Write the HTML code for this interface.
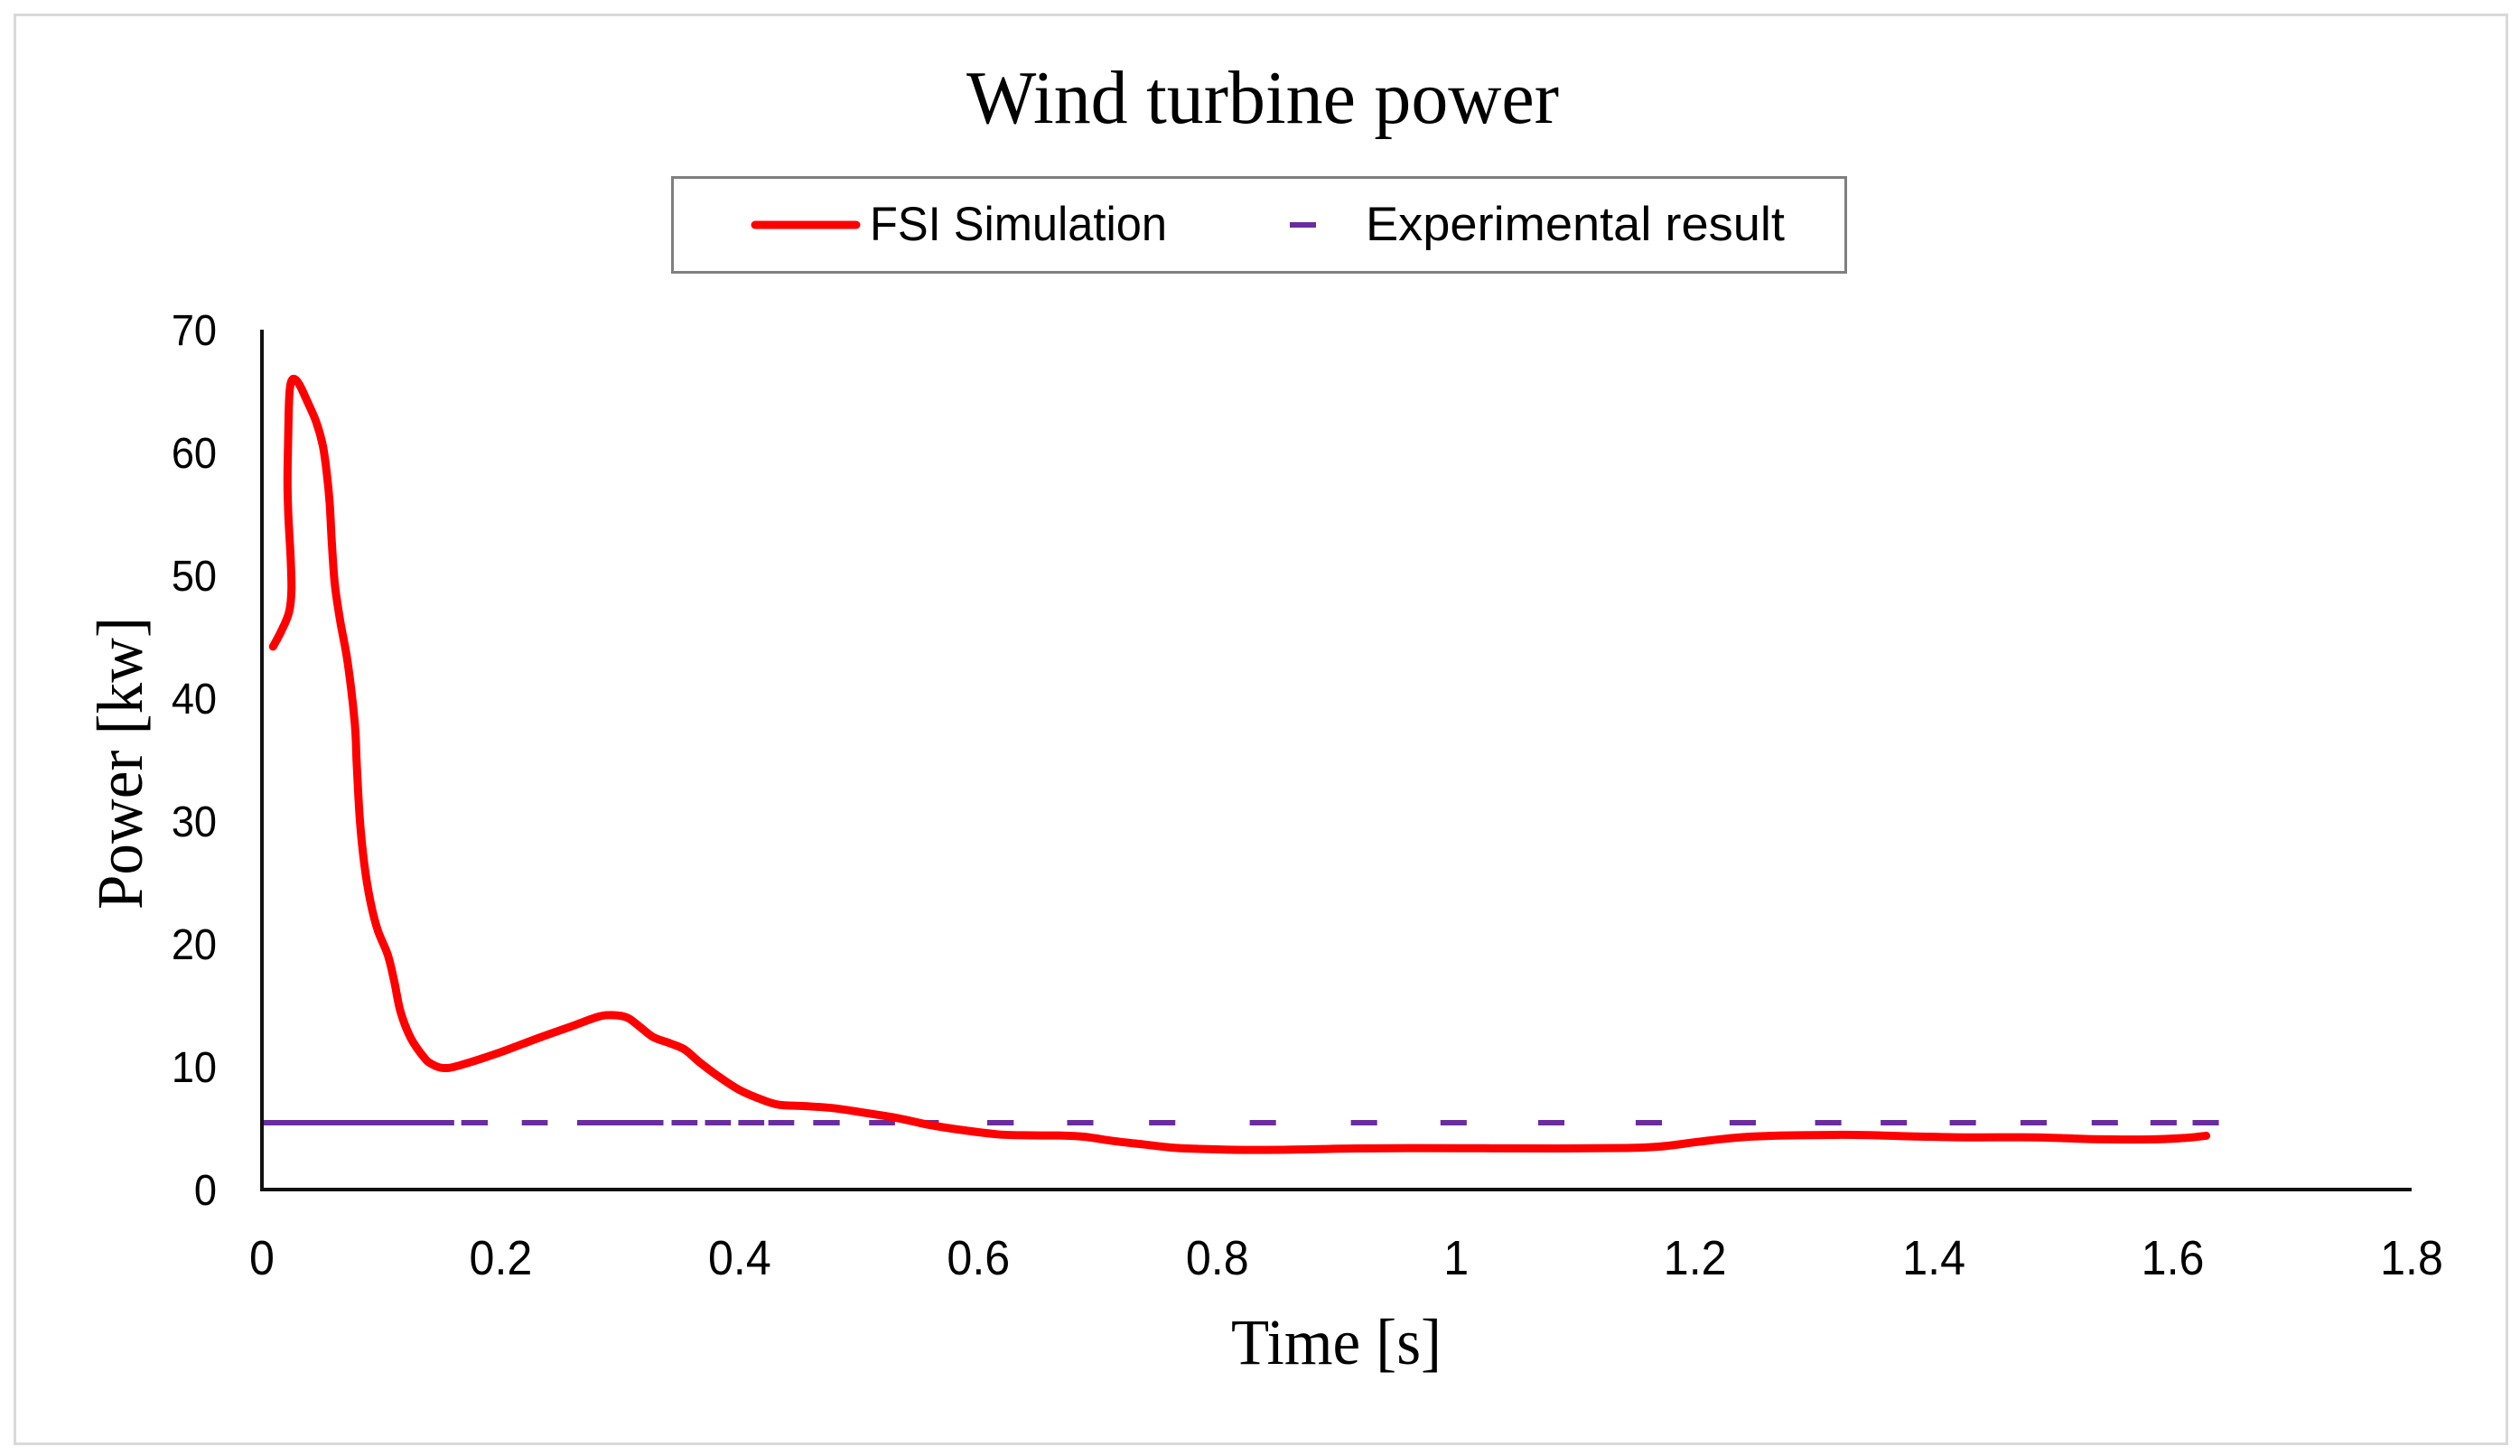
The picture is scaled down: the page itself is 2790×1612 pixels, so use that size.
<!DOCTYPE html>
<html lang="en">
<head>
<meta charset="utf-8">
<title>Wind turbine power</title>
<style>
  html, body { margin: 0; padding: 0; background: #ffffff; }
  body { width: 2790px; height: 1612px; overflow: hidden; }
  svg { display: block; }
  .serif { font-family: "Liberation Serif", serif; fill: #000; }
  .sans { font-family: "Liberation Sans", sans-serif; fill: #000; }
</style>
</head>
<body>
<svg id="chart" xmlns="http://www.w3.org/2000/svg" width="2790" height="1612" viewBox="0 0 2790 1612">
  <rect x="16.5" y="16.5" width="2759" height="1582" fill="#ffffff" stroke="#d9d9d9" stroke-width="3"/>
  <text class="serif" x="1070" y="136" font-size="84" textLength="656" lengthAdjust="spacingAndGlyphs">Wind turbine power</text>

  <g>
    <rect x="744.5" y="196.5" width="1299" height="105" fill="#ffffff" stroke="#7f7f7f" stroke-width="3"/>
    <line x1="836" y1="249" x2="948" y2="249" stroke="#ff0000" stroke-width="9" stroke-linecap="round"/>
    <text class="sans" x="963" y="266" font-size="53" textLength="329" lengthAdjust="spacingAndGlyphs">FSI Simulation</text>
    <line x1="1428" y1="249" x2="1457" y2="249" stroke="#6a2c9e" stroke-width="6"/>
    <text class="sans" x="1512" y="266" font-size="53" textLength="464" lengthAdjust="spacingAndGlyphs">Experimental result</text>
  </g>

  <g id="x-tick-labels"></g>
  <g id="y-tick-labels"></g>
  <g id="experimental-series"></g>
  <path id="fsi-line" fill="none" stroke="#ff0000" stroke-width="9" stroke-linecap="round" stroke-linejoin="round"/>
  <line id="y-axis" stroke="#111111" stroke-width="4"/>
  <line id="x-axis" stroke="#111111" stroke-width="4"/>

  <text class="serif" x="1363" y="1510" font-size="72" textLength="233" lengthAdjust="spacingAndGlyphs">Time [s]</text>
  <text class="serif" transform="translate(157,1007) rotate(-90)" x="0" y="0" font-size="72" textLength="324" lengthAdjust="spacingAndGlyphs">Power [kw]</text>
</svg>

<script>
const xTickValues = [0, 0.2, 0.4, 0.6, 0.8, 1, 1.2, 1.4, 1.6, 1.8];
const yTickValues = [0, 10, 20, 30, 40, 50, 60, 70];

const fsiTime = [
  0.0093, 0.0164, 0.0227, 0.0247, 0.024, 0.0222, 0.0214, 0.022, 0.0227, 0.024, 0.027,
  0.0315, 0.0378, 0.0454, 0.0509, 0.0542, 0.0567, 0.0585, 0.061, 0.0655, 0.0718, 0.0777,
  0.0794, 0.082, 0.0857, 0.0907, 0.097, 0.1054, 0.1109, 0.116, 0.1248, 0.1362, 0.1425,
  0.1513, 0.1634, 0.1975, 0.2305, 0.2596, 0.2817, 0.2937, 0.3058, 0.3158, 0.3278, 0.3419, 0.3539, 0.366,
  0.381, 0.4, 0.4191, 0.4331, 0.4532, 0.4772, 0.5013, 0.5304, 0.5595, 0.5835, 0.6166, 0.6457,
  0.6678, 0.6883, 0.7134, 0.7385, 0.7636, 0.7887, 0.8138, 0.8388, 0.8639, 0.889, 0.9151, 0.963,
  1.023, 1.084, 1.142, 1.1707, 1.2042, 1.2376, 1.2757, 1.333, 1.3808, 1.4285, 1.4858, 1.5335, 1.5813,
  1.61, 1.628
];
const fsiPower = [
  44.2, 45.5, 47.0, 48.8, 51.5, 54.7, 57.6, 61.3, 64.2, 65.6, 66.0,
  65.5, 64.2, 62.5, 60.6, 58.4, 55.9, 52.7, 49.3, 46.3, 42.9, 38.0,
  34.6, 30.1, 26.5, 23.5, 21.1, 19.1, 16.9, 14.5, 12.3, 10.7, 10.2,
  9.9, 10.05, 11.1, 12.3, 13.3, 14.07, 14.2, 14.0, 13.3, 12.4, 11.9, 11.4, 10.4,
  9.3, 8.1, 7.3, 6.9, 6.8, 6.64, 6.3, 5.85, 5.25, 4.88, 4.49, 4.41,
  4.4, 4.3, 3.95, 3.67, 3.4, 3.3, 3.24, 3.23, 3.25, 3.3, 3.35, 3.37,
  3.36, 3.35, 3.38, 3.5, 3.9, 4.25, 4.4, 4.45, 4.33, 4.25, 4.25, 4.1, 4.08,
  4.2, 4.38
];

const experimentalPower = 5.44;
const experimentalSegmentStart = [
  0, 0.1669, 0.2176, 0.2639, 0.343, 0.371, 0.3989, 0.424, 0.4616, 0.5084, 0.5446, 0.6073,
  0.6742, 0.7428, 0.8271, 0.9118, 0.9868, 1.0686, 1.1503, 1.2289, 1.3005, 1.3554, 1.4132, 1.4725,
  1.5321, 1.5813, 1.6166
];
const experimentalSegmentEnd = [
  0.161, 0.1891, 0.2393, 0.3362, 0.3647, 0.3927, 0.4206, 0.4457, 0.4838, 0.5301, 0.5668, 0.6295,
  0.6962, 0.7648, 0.8491, 0.9338, 1.0088, 1.0906, 1.1723, 1.2509, 1.3225, 1.3774, 1.4352, 1.4945,
  1.5541, 1.6033, 1.6386
];

const xDomainMax = 1.8;
const yDomainMax = 70;
const NS = 'http://www.w3.org/2000/svg';

function xScale(t) { return 290 + (t / xDomainMax) * (2670 - 290); }
function yScale(p) { return 1317 - (p / yDomainMax) * (1317 - 365); }

const yAxis = document.getElementById('y-axis');
yAxis.setAttribute('x1', xScale(0));
yAxis.setAttribute('x2', xScale(0));
yAxis.setAttribute('y1', yScale(yDomainMax));
yAxis.setAttribute('y2', yScale(0) + 2);

const xAxis = document.getElementById('x-axis');
xAxis.setAttribute('x1', xScale(0));
xAxis.setAttribute('x2', xScale(xDomainMax));
xAxis.setAttribute('y1', yScale(0));
xAxis.setAttribute('y2', yScale(0));

const xLabelGroup = document.getElementById('x-tick-labels');
xTickValues.forEach(function (v) {
  const el = document.createElementNS(NS, 'text');
  
  
  el.setAttribute('class', 'sans');
  el.setAttribute('transform', 'translate(' + xScale(v) + ',1411) scale(0.93,1)');
  el.setAttribute('font-size', '54');
  el.setAttribute('text-anchor', 'middle');
  el.textContent = String(v);
  xLabelGroup.appendChild(el);
});

const yLabelGroup = document.getElementById('y-tick-labels');
yTickValues.forEach(function (v) {
  const el = document.createElementNS(NS, 'text');
  
  
  el.setAttribute('class', 'sans');
  el.setAttribute('transform', 'translate(240,' + (yScale(v) + 17) + ') scale(0.94,1)');
  el.setAttribute('font-size', '48');
  el.setAttribute('text-anchor', 'end');
  el.textContent = String(v);
  yLabelGroup.appendChild(el);
});

const expGroup = document.getElementById('experimental-series');
experimentalSegmentStart.forEach(function (start, i) {
  const seg = document.createElementNS(NS, 'line');
  
  
  seg.setAttribute('x1', xScale(start));
  seg.setAttribute('x2', xScale(experimentalSegmentEnd[i]));
  seg.setAttribute('y1', yScale(experimentalPower));
  seg.setAttribute('y2', yScale(experimentalPower));
  seg.setAttribute('stroke', '#6a2c9e');
  seg.setAttribute('stroke-width', '6');
  expGroup.appendChild(seg);
});

/* Smooth line through the series (Catmull-Rom converted to cubic Beziers). */
function smoothPath(pts) {
  let d = 'M' + pts[0][0].toFixed(2) + ' ' + pts[0][1].toFixed(2);
  for (let i = 0; i < pts.length - 1; i++) {
    const p0 = pts[Math.max(i - 1, 0)];
    const p1 = pts[i];
    const p2 = pts[i + 1];
    const p3 = pts[Math.min(i + 2, pts.length - 1)];
    const c1x = p1[0] + (p2[0] - p0[0]) / 6;
    const c1y = p1[1] + (p2[1] - p0[1]) / 6;
    const c2x = p2[0] - (p3[0] - p1[0]) / 6;
    const c2y = p2[1] - (p3[1] - p1[1]) / 6;
    d += 'C' + c1x.toFixed(2) + ' ' + c1y.toFixed(2) + ' ' + c2x.toFixed(2) + ' ' + c2y.toFixed(2) + ' ' + p2[0].toFixed(2) + ' ' + p2[1].toFixed(2);
  }
  return d;
}

const fsiPoints = fsiTime.map(function (t, i) { return [xScale(t), yScale(fsiPower[i])]; });
document.getElementById('fsi-line').setAttribute('d', smoothPath(fsiPoints));
</script>
</body>
</html>
